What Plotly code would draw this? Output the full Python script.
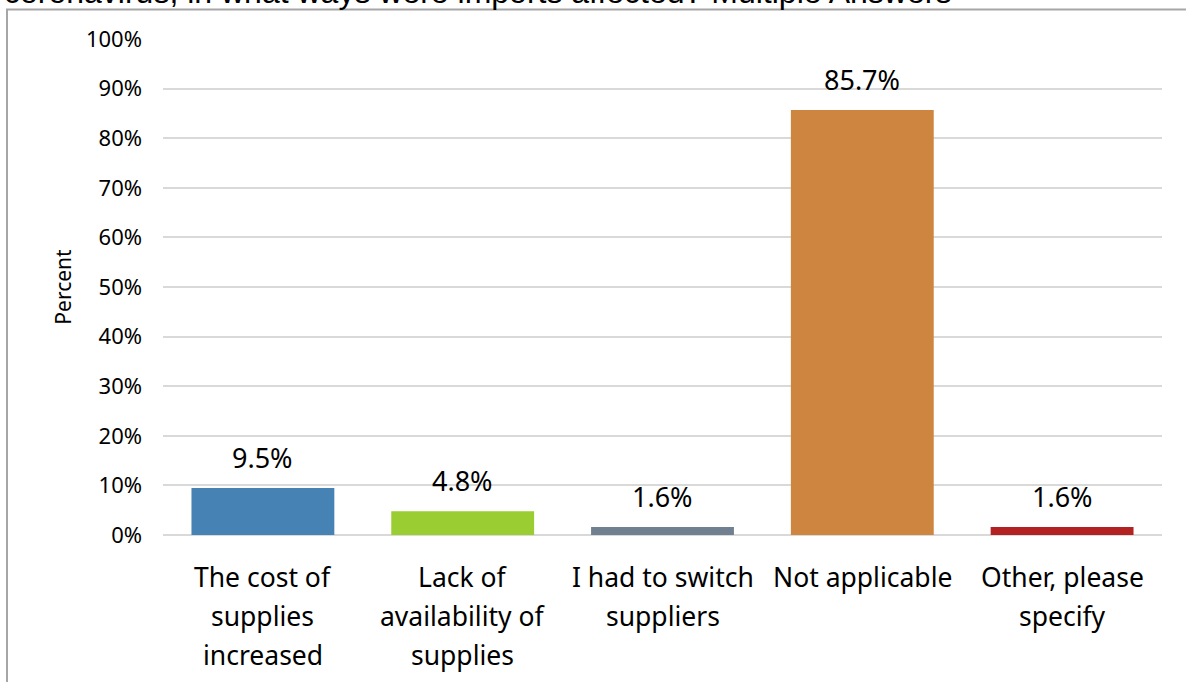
import plotly.graph_objects as go

# Survey answers (multiple answers allowed)
categories = [
    "The cost of<br>supplies<br>increased",
    "Lack of<br>availability of<br>supplies",
    "I had to switch<br>suppliers",
    "Not applicable",
    "Other, please<br>specify",
]
percent = [0.095, 0.048, 0.016, 0.857, 0.016]
bar_colors = ["#4682B4", "#9ACD32", "#708090", "#CD853F", "#B22222"]

title_text = "coronavirus, in what ways were imports affected? Multiple Answers"

fig = go.Figure(
    go.Bar(
        x=list(range(len(categories))),
        y=percent,
        marker=dict(color=bar_colors, line=dict(width=0)),
        width=0.715,
    )
)

# value labels above the bars
for i, v in enumerate(percent):
    fig.add_annotation(
        x=i, y=v, xref="x", yref="y",
        text=f"{v:.1%}", showarrow=False,
        yanchor="bottom", yshift=10,
        font=dict(size=27, color="#000000", family="Noto Sans"),
    )

# category labels as separate lines (Excel-like line spacing)
for i, label in enumerate(categories):
    for j, line in enumerate(label.split("<br>")):
        fig.add_annotation(
            x=i, y=0, xref="x", yref="y",
            text=line, showarrow=False,
            yanchor="middle", yshift=-42 - 39 * j,
            font=dict(size=26.5, color="#000000", family="Noto Sans"),
        )

# title, cut off by the top of the picture
fig.add_annotation(
    x=(953 - 163) / 999, y=1 + (39 - 12) / 496, xref="paper", yref="paper",
    xanchor="right", yanchor="bottom", showarrow=False,
    text=title_text,
    font=dict(size=32, color="#000000", family="Liberation Sans"),
)

# chart border
fig.add_shape(
    type="rect", xref="paper", yref="paper",
    x0=(7 - 163) / 999, x1=1.2, y0=-0.5, y1=1 + (39 - 9.5) / 496,
    line=dict(color="#A6A6A6", width=2), layer="below",
)

fig.update_layout(
    width=1186, height=682,
    margin=dict(l=163, r=24, t=39, b=147),
    paper_bgcolor="white", plot_bgcolor="white",
    showlegend=False,
    font=dict(family="Noto Sans", color="#000000"),
)
fig.update_xaxes(
    range=[-0.5, 4.5], showticklabels=False, showgrid=False,
    zeroline=False, ticks="",
)
fig.update_yaxes(
    range=[0, 1], dtick=0.1, tickformat=".0%",
    showgrid=True, gridcolor="#D9D9D9", gridwidth=2,
    zeroline=True, zerolinecolor="#D9D9D9", zerolinewidth=2,
    tickfont=dict(size=22, family="Noto Sans"), ticks="", ticklen=0,
    ticklabelstandoff=20,
    title=dict(text="Percent", font=dict(size=21, family="Noto Sans"), standoff=8),
)

fig.write_html(
    "out.html",
    config={"displayModeBar": False},
    post_script="document.body.style.margin='0';",
)
